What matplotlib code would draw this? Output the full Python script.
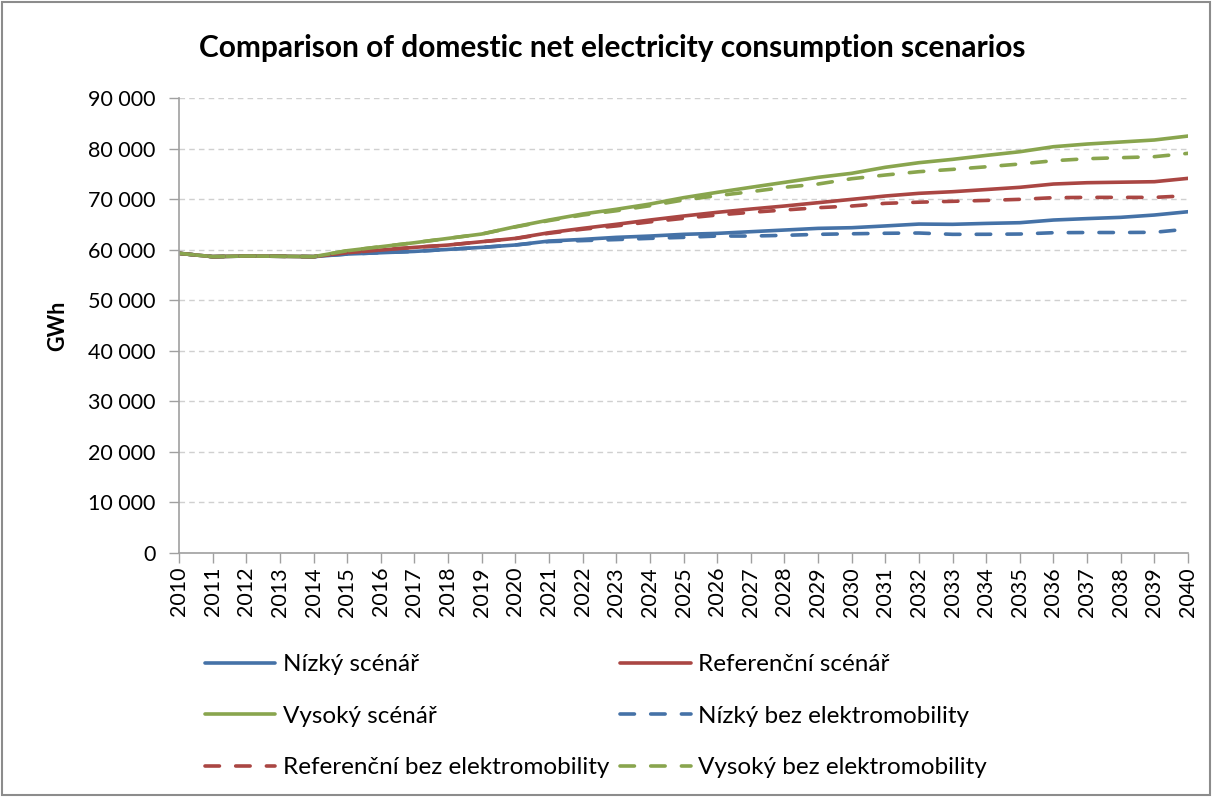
import matplotlib.pyplot as plt
import matplotlib.ticker as mticker
from matplotlib.patches import Rectangle

years = list(range(2010, 2041))

# GWh
nizky = [59280, 58620, 58750, 58700, 58620, 59140, 59400, 59660, 60060, 60460,
         60930, 61710, 62040, 62440, 62700, 63040, 63230, 63560, 63890, 64220,
         64350, 64700, 65070, 65020, 65200, 65340, 65870, 66150, 66400, 66860, 67510]
referencni = [59280, 58620, 58750, 58700, 58620, 59400, 59930, 60460, 60920, 61580,
              62240, 63360, 64220, 65020, 65870, 66660, 67390, 68040, 68640, 69300,
              69960, 70620, 71150, 71470, 71900, 72340, 72990, 73250, 73350, 73450, 74110]
vysoky = [59280, 58620, 58750, 58700, 58620, 59800, 60590, 61380, 62240, 63100,
          64550, 65870, 67060, 67990, 69030, 70290, 71340, 72340, 73320, 74310,
          75110, 76300, 77210, 77870, 78650, 79380, 80370, 80900, 81300, 81700, 82480]
nizky_bez = [59280, 58620, 58750, 58700, 58620, 59140, 59400, 59660, 60060, 60460,
             60930, 61600, 61800, 62000, 62240, 62440, 62700, 62700, 62840, 63040,
             63150, 63250, 63300, 63040, 63050, 63100, 63360, 63400, 63400, 63440, 64090]
referencni_bez = [59280, 58620, 58750, 58700, 58620, 59400, 59930, 60460, 60920, 61580,
                  62200, 63250, 64050, 64700, 65500, 66200, 66860, 67390, 67850, 68310,
                  68640, 69170, 69400, 69570, 69750, 69960, 70290, 70350, 70350, 70350, 70680]
vysoky_bez = [59280, 58620, 58750, 58700, 58620, 59800, 60590, 61380, 62240, 63100,
              64500, 65750, 66850, 67700, 68700, 69830, 70680, 71470, 72340, 72990,
              74040, 74770, 75430, 75890, 76400, 76950, 77600, 78000, 78200, 78400, 79060]

BLUE = "#4572A7"
RED = "#AA4643"
GREEN = "#89A54E"

plt.rcParams["font.family"] = ["Lato", "DejaVu Sans"]

fig = plt.figure(figsize=(12.12, 7.97), dpi=100)
ax = fig.add_axes([0.1477, 0.3061, 0.8325, 0.5709])

dash = (0, (4, 4.5))
series = [
    (nizky, BLUE, "-", "Nízký scénář"),
    (referencni, RED, "-", "Referenční scénář"),
    (vysoky, GREEN, "-", "Vysoký scénář"),
    (nizky_bez, BLUE, dash, "Nízký bez elektromobility"),
    (referencni_bez, RED, dash, "Referenční bez elektromobility"),
    (vysoky_bez, GREEN, dash, "Vysoký bez elektromobility"),
]
lines = []
for vals, col, ls, lab in series:
    ln, = ax.plot(years, vals, color=col, linestyle=ls, linewidth=2.6,
                  label=lab, solid_capstyle="round", dash_capstyle="round")
    lines.append(ln)

ax.set_xlim(2010, 2040)
ax.set_ylim(0, 90000)
ax.set_yticks(range(0, 90001, 10000))
ax.yaxis.set_major_formatter(mticker.FuncFormatter(
    lambda v, p: "{:,.0f}".format(v).replace(",", " ")))
ax.set_xticks(years)
ax.set_xticklabels([str(y) for y in years], rotation=90)
ax.tick_params(axis="both", labelsize=15.5, color="#A0A0A0", length=7, width=1)
ax.tick_params(axis="y", pad=10)
ax.tick_params(axis="x", pad=3)
ax.grid(axis="y", color="#D0D0D0", linestyle=(0, (4, 3)), linewidth=1)
ax.set_axisbelow(True)
for s in ["top", "right"]:
    ax.spines[s].set_visible(False)
for s in ["left", "bottom"]:
    ax.spines[s].set_color("#A0A0A0")
    ax.spines[s].set_linewidth(1.2)

ax.set_ylabel("GWh", fontsize=15.5, fontweight="bold", labelpad=14)
fig.text(0.505, 0.94, "Comparison of domestic net electricity consumption scenarios",
         ha="center", va="center", fontsize=21.5, fontweight="bold")

# legend laid out row by row, like the original
leg_kw = dict(loc="upper left", frameon=False, fontsize=17.5, handlelength=2.9,
              handletextpad=0.3, labelspacing=1.25, borderpad=0, borderaxespad=0)
leg1 = fig.legend(handles=[lines[0], lines[2], lines[4]],
                  bbox_to_anchor=(0.169, 0.179), **leg_kw)
leg2 = fig.legend(handles=[lines[1], lines[3], lines[5]],
                  bbox_to_anchor=(0.5116, 0.179), **leg_kw)

fig.patches.append(Rectangle((0.002, 0.002), 0.996, 0.996, transform=fig.transFigure,
                             fill=False, edgecolor="#8C8C8C", linewidth=1.5))

fig.savefig("out.png", dpi=100)
